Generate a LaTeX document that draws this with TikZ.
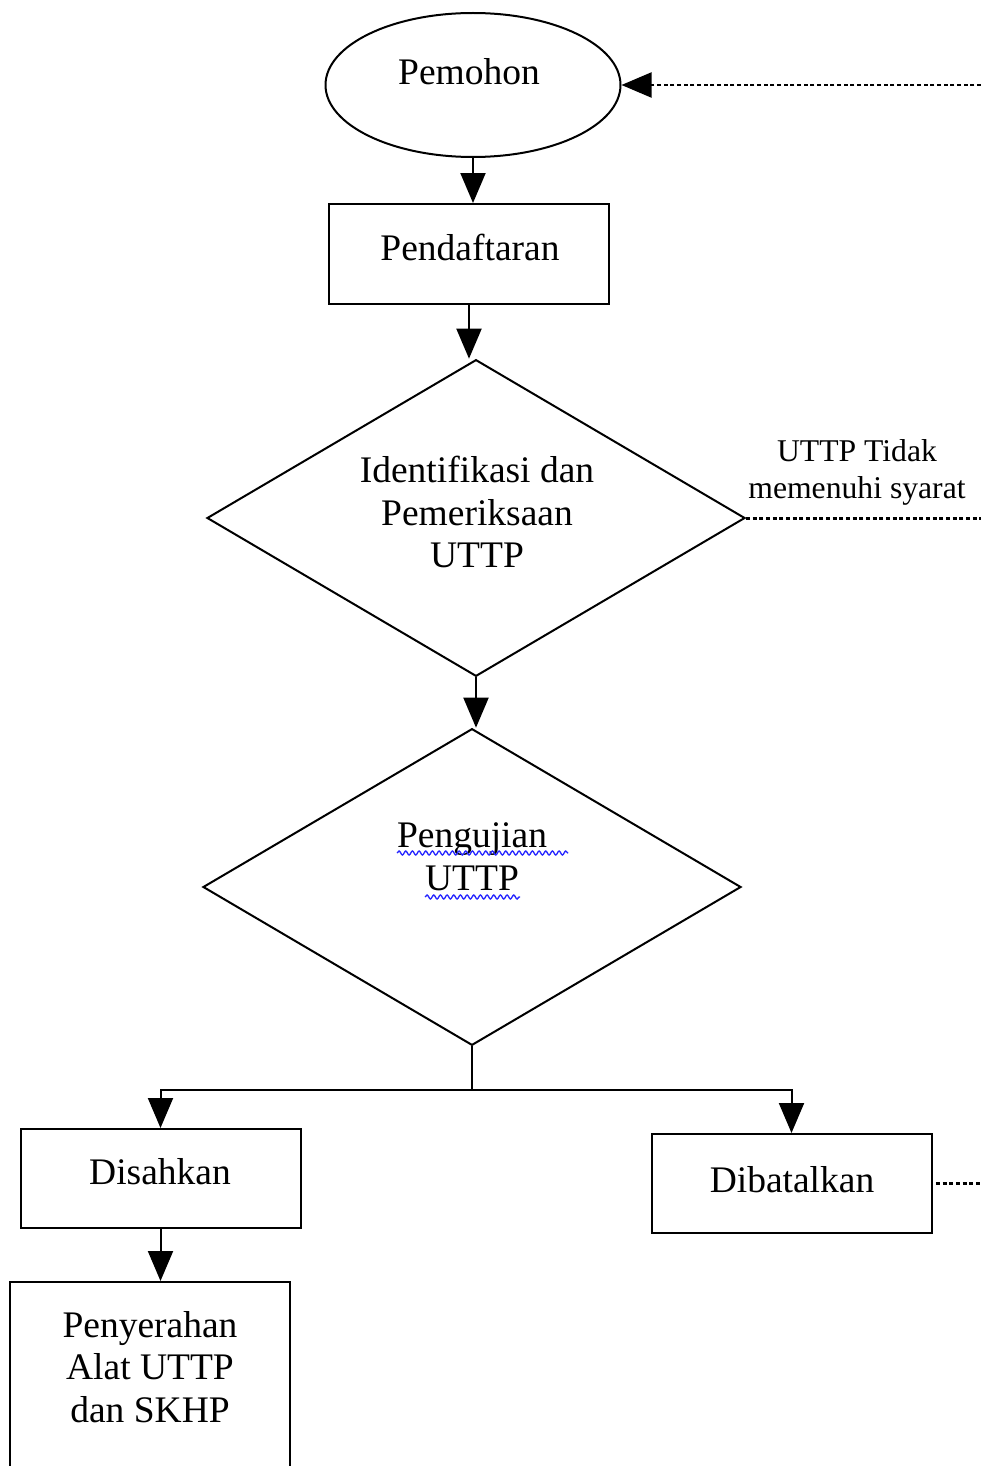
\documentclass[tikz,border=0pt]{standalone}
\usepackage{fontspec}
\setmainfont{Liberation Serif}
\usetikzlibrary{shapes.geometric,arrows.meta,decorations.pathmorphing}

\begin{document}
\begin{tikzpicture}[
                    x=0.3pt, y=-0.3pt,
                    every node/.style={
                        align=center,
                        font=\fontsize{11.25}{12.8}\selectfont
                    },
                    terminal/.style={ellipse, draw, line width=0.6pt, inner sep=0pt, minimum width=88.5pt, minimum height=43.2pt},
                    stepbox/.style={rectangle, draw, line width=0.6pt, inner sep=0pt, minimum width=84pt, minimum height=30pt},
                    check/.style={diamond, draw, line width=0.6pt, inner sep=0pt, minimum width=161.4pt, minimum height=95pt},
                    arrow/.style={line width=0.6pt, -{Triangle[length=9pt,width=7.5pt]}},
                    dotline/.style={line width=0.9pt, dash pattern=on 1.2pt off 0.8pt},
                    wavy/.style={draw=blue!85!white, line width=0.4pt, decorate, decoration={snake, amplitude=0.6pt, segment length=2pt}}
                ]
                    \useasboundingbox (0,0) rectangle (981,1466);
                    \clip (0,0) rectangle (981,1466);

                    % Shapes
                    \node[terminal] (pemohon) at (473,85) {};
                    \node[stepbox] (daftar) at (469,254) {};
                    \node[check] (periksa) at (476,518) {};
                    \node[check] (uji) at (472,887) {};
                    \node[stepbox, minimum height=29.7pt] (sah) at (160.5,1178.5) {};
                    \node[stepbox, minimum height=29.7pt] (batal) at (791.5,1183.5) {};
                    \node[stepbox, minimum height=62.4pt] (serah) at (150,1386) {};

                    % Texts
                    \node (pemohon-txt) at (469,72) {Pemohon};
                    \node (daftar-txt) at (470,247) {Pendaftaran};
                    \node (periksa-txt) at (477,512) {Identifikasi dan\\Pemeriksaan\\UTTP};
                    \node (uji-txt) at (472,857) {Pengujian\\UTTP};
                    \node (sah-txt) at (160,1172) {Disahkan};
                    \node (batal-txt) at (792,1180) {Dibatalkan};
                    \node (serah-txt) at (150,1367) {Penyerahan\\Alat UTTP\\dan SKHP};
                    \node[font=\fontsize{9.5}{11.1}\selectfont] (tolak) at (857,472) {UTTP Tidak\\memenuhi syarat};

                    % spell-check marks
                    \draw[wavy] (397,853) -- (568,853);
                    \draw[wavy] (425,897) -- (520,897);

                    % Return lines
                    \coordinate (ret1) at (981,85);
                    \coordinate (ret2) at (981,518);
                    \coordinate (ret3) at (981,1183.5);
                    \coordinate (split) at (472,1090);

                    % Edges
                    \draw[arrow] (pemohon.south) -- (pemohon.south |- daftar.north);
                    \draw[arrow] (daftar.south) -- (daftar.south |- periksa.north);
                    \draw[arrow] (periksa.south) -- (periksa.south |- uji.north);
                    \draw[line width=0.6pt] (uji.south) -- (split);
                    \draw[arrow] (split) -| (sah.north);
                    \draw[arrow] (split) -| (batal.north);
                    \draw[arrow] (sah.south) -- (sah.south |- serah.north);
                    \draw[dotline, arrow] (ret1) -- (pemohon.east);
                    \draw[dotline] (periksa.east) -- (ret2);
                    \draw[dotline] ([xshift=1pt]batal.east) -- (ret3);
                \end{tikzpicture}
\end{document}
